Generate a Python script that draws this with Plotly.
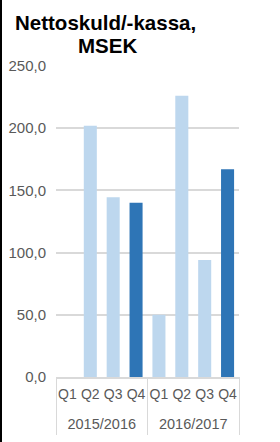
import plotly.graph_objects as go

years = ["2015/2016", "2016/2017"]
quarters = ["Q1", "Q2", "Q3", "Q4"]
periods = [y + " " + q for y in years for q in quarters]
quarter_labels = quarters * 2
values = [None, 202.0, 144.5, 140.0, 50.0, 226.0, 94.0, 167.0]
light = "#BDD7EE"
dark = "#2E75B6"
colors = [light, light, light, dark, light, light, light, dark]

W, H = 280, 442
ml, mr, mt, mb = 56, 41, 66, 7
plot_bottom = 377
ph = H - mt - mb
ydom0 = (H - mb - plot_bottom) / ph
pw = W - ml - mr
divider_len = H - mb - plot_bottom

font_fam = "Arial, Liberation Sans, sans-serif"
gray = "#595959"
line_gray = "#D9D9D9"

fig = go.Figure()
fig.add_trace(go.Bar(x=periods, y=values, marker_color=colors,
                     marker_line_width=0, xaxis="x", yaxis="y"))
# empty helper trace so the year axis is drawn
fig.add_trace(go.Scatter(x=[1.5, 5.5], y=[None, None], xaxis="x2", yaxis="y",
                         mode="markers", showlegend=False, hoverinfo="skip"))

fig.update_layout(
    width=W, height=H, margin=dict(l=ml, r=mr, t=mt, b=mb, pad=0, autoexpand=False),
    paper_bgcolor="white", plot_bgcolor="white",
    separators=", ", bargap=0.43, showlegend=False,
    font=dict(family=font_fam, size=15, color=gray),
    yaxis=dict(domain=[ydom0, 1], range=[0, 250], dtick=50, tickformat=".1f",
               showgrid=True, gridcolor=line_gray, gridwidth=1.5, zeroline=False,
               showline=False, ticks="", ticklabelstandoff=9, automargin=False,
               tickfont=dict(size=15, color=gray)),
    xaxis=dict(type="category", range=[-0.5, 7.5], tickmode="array",
               tickvals=periods, ticktext=quarter_labels, showline=True,
               linecolor=line_gray, linewidth=1.5, ticks="", tickangle=0,
               ticklabelstandoff=3, automargin=False,
               showgrid=False, tickfont=dict(size=14, color=gray)),
    xaxis2=dict(overlaying="x", anchor="free", position=0, side="bottom",
                type="linear", range=[-0.5, 7.5], tickmode="array",
                tickvals=[1.5, 5.5], ticktext=years,
                ticklabelposition="inside", ticklabelstandoff=0,
                ticks="", showline=False, automargin=False,
                showgrid=False, zeroline=False, tickangle=0,
                tickfont=dict(size=14.5, color=gray),
                minor=dict(tickmode="array", tickvals=[-0.5, 3.5, 7.5],
                           ticks="inside", ticklen=divider_len,
                           tickcolor=line_gray, tickwidth=1, showgrid=False)),
)

fig.add_annotation(text="<b>Nettoskuld/-kassa,</b>", xref="paper", yref="paper",
                   x=(105 - ml) / pw, y=(H - mb - 22) / ph, xanchor="center",
                   yanchor="middle", showarrow=False,
                   font=dict(family=font_fam, size=20.5, color="black"))
fig.add_annotation(text="<b>MSEK</b>", xref="paper", yref="paper",
                   x=(107 - ml) / pw, y=(H - mb - 46) / ph, xanchor="center",
                   yanchor="middle", showarrow=False,
                   font=dict(family=font_fam, size=20.5, color="black"))

fig.add_shape(type="line", xref="paper", yref="paper",
              x0=(1 - ml) / pw, x1=(1 - ml) / pw,
              y0=-mb / ph, y1=(ph + mt) / ph,
              line=dict(color="black", width=2))

fig.write_html("out.html")
